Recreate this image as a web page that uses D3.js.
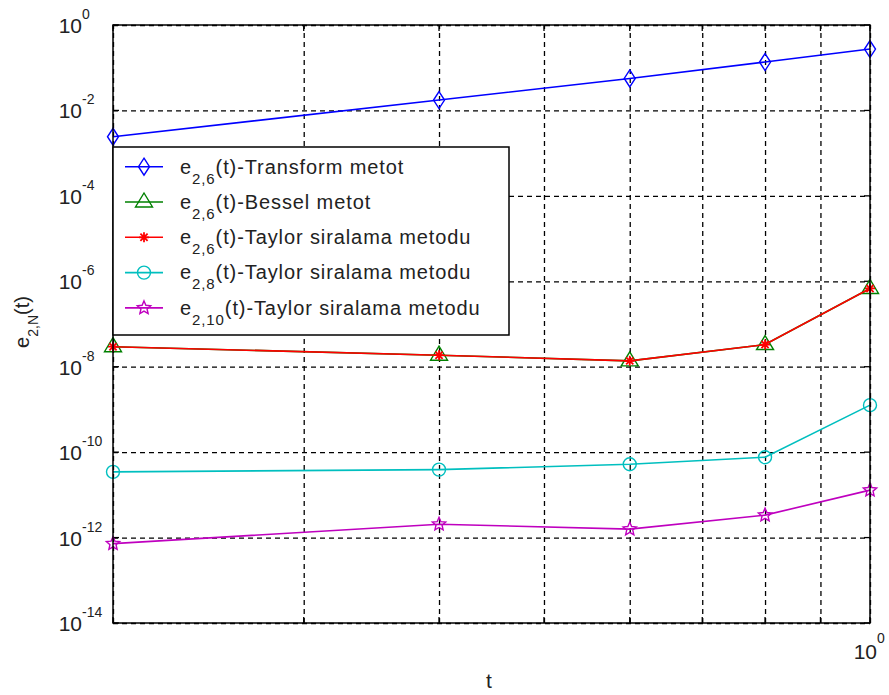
<!DOCTYPE html>
<html>
<head>
<meta charset="utf-8">
<script src="https://cdn.jsdelivr.net/npm/d3@7"></script>
<style>
  html, body { margin: 0; padding: 0; background: #fff; }
  svg { display: block; font-family: "Liberation Sans", Arial, sans-serif; }
</style>
</head>
<body>
<svg id="chart" width="889" height="695"></svg>
<script>
// Error of each method at the sample times t
const t = [0.2, 0.4, 0.6, 0.8, 1.0];
const transformN6 = [2.42e-3, 1.75e-2, 5.6e-2, 1.36e-1, 2.74e-1];
const besselN6    = [2.94e-8, 1.86e-8, 1.37e-8, 3.3e-8, 6.8e-7];
const taylorN6    = [2.94e-8, 1.86e-8, 1.37e-8, 3.3e-8, 6.8e-7];
const taylorN8    = [3.46e-11, 3.9e-11, 5.2e-11, 7.6e-11, 1.26e-9];
const taylorN10   = [7.2e-13, 2.05e-12, 1.58e-12, 3.35e-12, 1.29e-11];

const yTickExps = [0, -2, -4, -6, -8, -10, -12, -14];
const xGridValues = [0.2, 0.3, 0.4, 0.5, 0.6, 0.7, 0.8, 0.9, 1.0];

const series = [
  { name: "Transform metot",         sub: "2,6",  values: transformN6, color: "#0000ff", marker: "diamond" },
  { name: "Bessel metot",            sub: "2,6",  values: besselN6,    color: "#008000", marker: "triangle" },
  { name: "Taylor siralama metodu",  sub: "2,6",  values: taylorN6,    color: "#ff0000", marker: "star" },
  { name: "Taylor siralama metodu",  sub: "2,8",  values: taylorN8,    color: "#00bfbf", marker: "circle" },
  { name: "Taylor siralama metodu",  sub: "2,10", values: taylorN10,   color: "#bf00bf", marker: "pentagram" }
];

const svg = d3.select("#chart");
const plotL = 113, plotR = 870, plotT = 25, plotB = 623;

const x = d3.scaleLog().domain([0.2, 1]).range([plotL, plotR]);
const y = d3.scaleLog().domain([1e-14, 1]).range([plotB, plotT]);

// dashed grid
const grid = svg.append("g");
grid.append("g")
  .attr("transform", `translate(0,${plotB})`)
  .call(d3.axisBottom(x).tickValues(xGridValues).tickSize(-(plotB - plotT)).tickFormat(""))
  .call(g => g.select(".domain").remove());
grid.append("g")
  .attr("transform", `translate(${plotL},0)`)
  .call(d3.axisLeft(y).tickValues(yTickExps.map(e => Math.pow(10, e))).tickSize(-(plotR - plotL)).tickFormat(""))
  .call(g => g.select(".domain").remove());
grid.selectAll("line")
  .attr("stroke", "#000")
  .attr("stroke-width", 1.3)
  .attr("stroke-dasharray", "5,4");

// inward tick marks on all four sides
const tickLen = 6;
const ticks = svg.append("g").attr("stroke", "#000").attr("stroke-width", 1.3);
xGridValues.forEach(v => {
  ticks.append("line").attr("x1", x(v)).attr("x2", x(v)).attr("y1", plotB).attr("y2", plotB - tickLen);
  ticks.append("line").attr("x1", x(v)).attr("x2", x(v)).attr("y1", plotT).attr("y2", plotT + tickLen);
});
yTickExps.forEach(e => {
  const yy = y(Math.pow(10, e));
  ticks.append("line").attr("x1", plotL).attr("x2", plotL + tickLen).attr("y1", yy).attr("y2", yy);
  ticks.append("line").attr("x1", plotR).attr("x2", plotR - tickLen).attr("y1", yy).attr("y2", yy);
});

// marker shapes
function markerPath(type) {
  switch (type) {
    case "diamond":
      return "M0,-8.5L5.5,0L0,8.5L-5.5,0Z";
    case "triangle":
      return "M0,-9L8.5,5L-8.5,5Z";
    case "star":
      return "M-5,0L5,0M0,-5L0,5M-3.6,-3.6L3.6,3.6M-3.6,3.6L3.6,-3.6";
    case "circle":
      return d3.arc()({ innerRadius: 0, outerRadius: 6.5, startAngle: 0, endAngle: 2 * Math.PI });
    case "pentagram": {
      const pts = [];
      for (let i = 0; i < 10; i++) {
        const r = i % 2 === 0 ? 7 : 3.2;
        const a = -Math.PI / 2 + i * Math.PI / 5;
        pts.push([r * Math.cos(a), r * Math.sin(a)]);
      }
      return "M" + pts.map(p => p[0].toFixed(2) + "," + p[1].toFixed(2)).join("L") + "Z";
    }
  }
}

const line = d3.line().x(d => x(d[0])).y(d => y(d[1]));

series.forEach(s => {
  const pts = t.map((tv, i) => [tv, s.values[i]]);
  const g = svg.append("g");
  g.append("path")
    .attr("d", line(pts))
    .attr("fill", "none")
    .attr("stroke", s.color)
    .attr("stroke-width", 1.6);
  g.selectAll("path.mk")
    .data(pts)
    .join("path")
    .attr("class", "mk")
    .attr("transform", d => `translate(${x(d[0])},${y(d[1])})`)
    .attr("d", markerPath(s.marker))
    .attr("fill", "none")
    .attr("stroke", s.color)
    .attr("stroke-width", s.marker === "star" ? 1.8 : 1.4);
});

// axes box
svg.append("rect")
  .attr("x", plotL).attr("y", plotT)
  .attr("width", plotR - plotL).attr("height", plotB - plotT)
  .attr("fill", "none").attr("stroke", "#000").attr("stroke-width", 1.5);

// y tick labels
const yLabels = svg.append("g").attr("fill", "#222");
yTickExps.forEach(e => {
  const yy = y(Math.pow(10, e));
  yLabels.append("text")
    .attr("x", 82).attr("y", yy + 8)
    .attr("text-anchor", "end")
    .attr("font-size", 21)
    .text("10");
  yLabels.append("text")
    .attr("x", 82).attr("y", yy - 6)
    .attr("font-size", 14)
    .text(e === 0 ? "0" : "-" + Math.abs(e));
});

// x tick label at t = 1
svg.append("text")
  .attr("x", x(1) + 7).attr("y", 659)
  .attr("text-anchor", "end")
  .attr("font-size", 21).attr("fill", "#222")
  .text("10");
svg.append("text")
  .attr("x", x(1) + 7).attr("y", 643)
  .attr("font-size", 14).attr("fill", "#222")
  .text("0");

// axis titles
svg.append("text")
  .attr("x", 489).attr("y", 688)
  .attr("text-anchor", "middle")
  .attr("font-size", 21).attr("fill", "#222")
  .text("t");

const yTitle = svg.append("text")
  .attr("transform", "translate(29,322) rotate(-90)")
  .attr("text-anchor", "middle")
  .attr("font-size", 20).attr("fill", "#222");
yTitle.append("tspan").text("e");
yTitle.append("tspan").attr("font-size", 14).attr("dy", 9).text("2,N");
yTitle.append("tspan").attr("dy", -9).text("(t)");

// legend
const lg = svg.append("g");
lg.append("rect")
  .attr("x", 113).attr("y", 147)
  .attr("width", 396).attr("height", 188)
  .attr("fill", "#fff").attr("stroke", "#000").attr("stroke-width", 1.5);

series.forEach((s, i) => {
  const cy = 166.7 + i * 35.3;
  lg.append("line")
    .attr("x1", 125).attr("x2", 163).attr("y1", cy).attr("y2", cy)
    .attr("stroke", s.color).attr("stroke-width", 1.6);
  lg.append("path")
    .attr("transform", `translate(144,${cy})`)
    .attr("d", markerPath(s.marker))
    .attr("fill", "none")
    .attr("stroke", s.color)
    .attr("stroke-width", s.marker === "star" ? 1.8 : 1.4);
  const txt = lg.append("text")
    .attr("x", 180).attr("y", cy + 6.8)
    .attr("font-size", 20).attr("letter-spacing", 0.9).attr("fill", "#222");
  txt.append("tspan").text("e");
  txt.append("tspan").attr("font-size", 15).attr("dy", 10).text(s.sub);
  txt.append("tspan").attr("dy", -10).text("(t)-" + s.name);
});
</script>
</body>
</html>
